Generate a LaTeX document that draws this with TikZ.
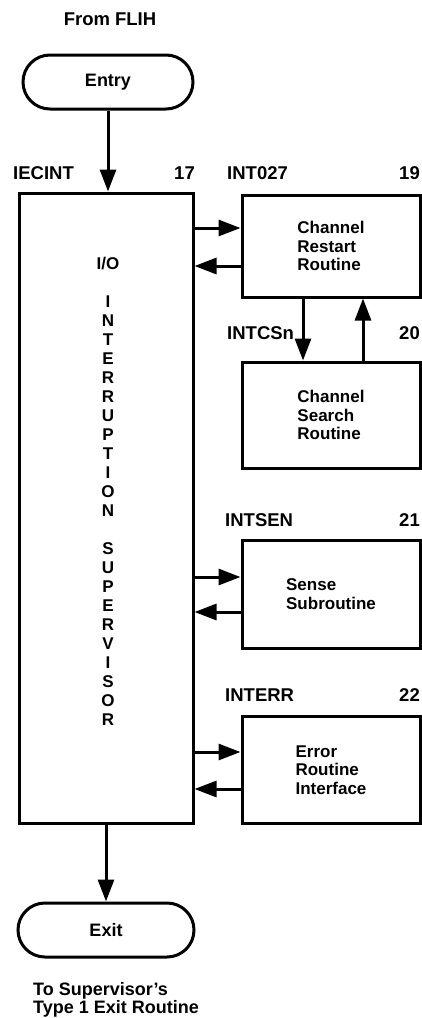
\documentclass[tikz,border=0pt]{standalone}
\usepackage{fontspec}
\setmainfont{Liberation Sans}
\usetikzlibrary{arrows.meta,shapes.misc}
\begin{document}
\begin{tikzpicture}[x=1pt,y=-1pt,
  box/.style={draw, line width=3pt, inner sep=0pt, align=left, minimum width=178pt,
    font=\fontsize{17}{18.5}\selectfont\bfseries},
  term/.style={draw, rounded rectangle, line width=3pt, inner sep=0pt,
    minimum height=54pt, font=\fontsize{18}{20}\selectfont\bfseries},
  lbl/.style={inner sep=0pt, font=\fontsize{18.5}{20}\selectfont\bfseries},
  vt/.style={inner sep=0pt, align=center, font=\fontsize{17}{19}\selectfont\bfseries},
  arr/.style={line width=3pt, -{Triangle[length=22pt 0,width=16pt 0]}}]
\useasboundingbox (0,0) rectangle (422,1018);

% terminals
\node[lbl] (from) at (110,19) {From FLIH};
\node[term, minimum width=170pt] (entry) at (108,82) {Entry};
\node[term, minimum width=176pt] (exit) at (106,930) {Exit};
\node[lbl, anchor=north west, align=left, font=\fontsize{18}{18}\selectfont\bfseries] (to) at (33,982)
  {To Supervisor’s\\Type 1 Exit Routine};

% main box
\node[draw, line width=3pt, minimum width=174pt, minimum height=630pt, inner sep=0pt] (main) at (106,508) {};
\node[vt, anchor=north] (iot) at (108,256.5)
  {I/O\\[19pt]I\\N\\T\\E\\R\\R\\U\\P\\T\\I\\O\\N\\[19pt]S\\U\\P\\E\\R\\V\\I\\S\\O\\R};
\node[lbl, anchor=west] (lie) at (13,173) {IECINT};
\node[lbl, anchor=east] (n17) at (195,173) {17};

% right boxes
\node[box, minimum height=102pt] (r1) at (331,246) {Channel\\Restart\\Routine};
\node[box, minimum height=106pt] (r2) at (331,415) {Channel\\Search\\Routine};
\node[box, minimum height=108pt] (r3) at (331,594) {Sense\\Subroutine};
\node[box, minimum height=107pt] (r4) at (331,770) {Error\\Routine\\Interface};

\node[lbl, anchor=west] (l1) at (227,173) {INT027};
\node[lbl, anchor=east] (n19) at (420,173) {19};
\node[lbl, anchor=west] (l2) at (227,333) {INTCSn};
\node[lbl, anchor=east] (n20) at (420,333) {20};
\node[lbl, anchor=west] (l3) at (225,520) {INTSEN};
\node[lbl, anchor=east] (n21) at (420,520) {21};
\node[lbl, anchor=west] (l4) at (225,695) {INTERR};
\node[lbl, anchor=east] (n22) at (420,695) {22};

% connectors
\draw[arr] (entry.south) -- (entry.south |- main.north);
\draw[arr] (main.south) -- (exit.north);

\coordinate (a1) at ([yshift=18pt]r1.west);
\coordinate (b1) at ([yshift=-20pt]r1.west);
\draw[arr] (a1 -| main.east) -- (a1);
\draw[arr] (b1) -- (b1 -| main.east);

\coordinate (d1) at ([xshift=-28pt]r1.south);
\coordinate (u1) at ([xshift=32pt]r2.north);
\draw[arr] (d1) -- (d1 |- r2.north);
\draw[arr] (u1) -- (u1 |- r1.south);

\coordinate (a3) at ([yshift=17pt]r3.west);
\coordinate (b3) at ([yshift=-18pt]r3.west);
\draw[arr] (a3 -| main.east) -- (a3);
\draw[arr] (b3) -- (b3 -| main.east);

\coordinate (a4) at ([yshift=18pt]r4.west);
\coordinate (b4) at ([yshift=-19pt]r4.west);
\draw[arr] (a4 -| main.east) -- (a4);
\draw[arr] (b4) -- (b4 -| main.east);
\end{tikzpicture}
\end{document}
